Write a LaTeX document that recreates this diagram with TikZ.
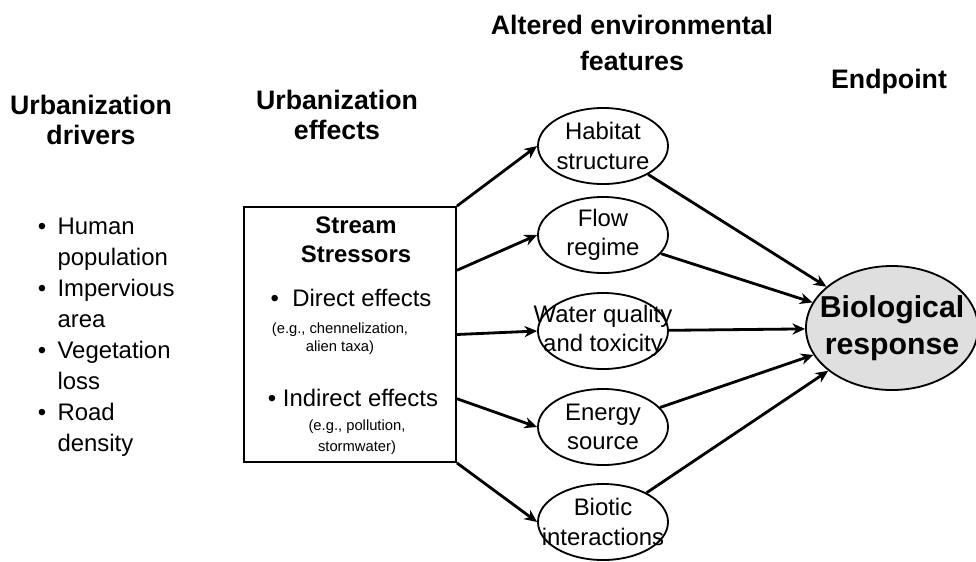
\documentclass[tikz,border=0pt]{standalone}
\usepackage{fontspec}
\setmainfont{Liberation Sans}
\usetikzlibrary{shapes.geometric,arrows.meta,calc}

\tikzset{
  feature/.style={draw, ellipse, line width=1.3pt, minimum width=3.25cm, minimum height=1.9cm, inner sep=0pt},
  flowarrow/.style={line width=2pt, -{Stealth[length=9pt,width=8pt]}},
  headtext/.style={font=\fontsize{19}{21}\selectfont\bfseries, align=center},
  bodytext/.style={font=\fontsize{17}{21}\selectfont, align=center},
  smalltext/.style={font=\fontsize{10.5}{13}\selectfont, align=center},
}

\begin{document}
\begin{tikzpicture}[x=0.025cm, y=-0.025cm]
  \useasboundingbox (0,0) rectangle (976,561);
  % headings
  \node[headtext] (drvhead) at (91,120) {Urbanization\\drivers};
  \node[headtext] (effhead) at (337,115) {Urbanization\\effects};
  \node[headtext, font=\fontsize{19}{25}\selectfont\bfseries] (althead) at (632,43) {Altered environmental\\features};
  \node[headtext] (endhead) at (889,82) {Endpoint};
  % drivers
  \node[bodytext, anchor=west, font=\fontsize{17}{22}\selectfont] (drvlist) at (33,337)
    {\begin{tabular}{@{}l@{\hspace{8pt}}l@{}}
      • & Human\\ & population\\
      • & Impervious\\ & area\\
      • & Vegetation\\ & loss\\
      • & Road\\ & density
    \end{tabular}};
  % stressor box
  \node[draw, line width=1.3pt, minimum width=5.3cm, minimum height=6.375cm] (stress) at (350,334.5) {};
  \node[bodytext, font=\fontsize{17}{21}\selectfont\bfseries] (sttitle) at (356,240) {Stream\\Stressors};
  \node[bodytext] (direct) at (351,298) {• \ Direct effects};
  \node[smalltext] (dirnote) at (340,339) {(e.g., chennelization,\\alien taxa)};
  \node[bodytext] (indirect) at (353,398) {• Indirect effects};
  \node[smalltext, font=\fontsize{10.5}{15}\selectfont] (indnote) at (357,437) {(e.g., pollution,\\stormwater)};
  % altered features
  \node[feature, label={[bodytext]center:{Habitat\\structure}}] (hab) at (603,146) {};
  \node[feature, label={[bodytext]center:{Flow\\regime}}] (flow) at (603,235) {};
  \node[feature, label={[bodytext]center:{Water quality\\and toxicity}}] (water) at (603,331) {};
  \node[feature, label={[bodytext]center:{Energy\\source}}] (energy) at (603,427) {};
  \node[feature, label={[bodytext]center:{Biotic\\interactions}}] (biotic) at (603,522) {};
  % endpoint
  \node[draw, ellipse, line width=1.3pt, fill=gray!25, minimum width=4.3cm, minimum height=3.1cm, inner sep=0pt,
    label={[font=\fontsize{21.5}{26}\selectfont\bfseries, align=center]center:{Biological\\response}}] (resp) at (892,328) {};
  %
  \foreach \f/\n in {0/hab, 0.25/flow, 0.5/water, 0.75/energy, 1/biotic}
    \draw[flowarrow] ($(stress.north east)!\f!(stress.south east)$) -- (\n.west);
  \foreach \n in {hab, flow, water, energy, biotic}
    \draw[flowarrow] (\n) -- (resp);
\end{tikzpicture}
\end{document}
